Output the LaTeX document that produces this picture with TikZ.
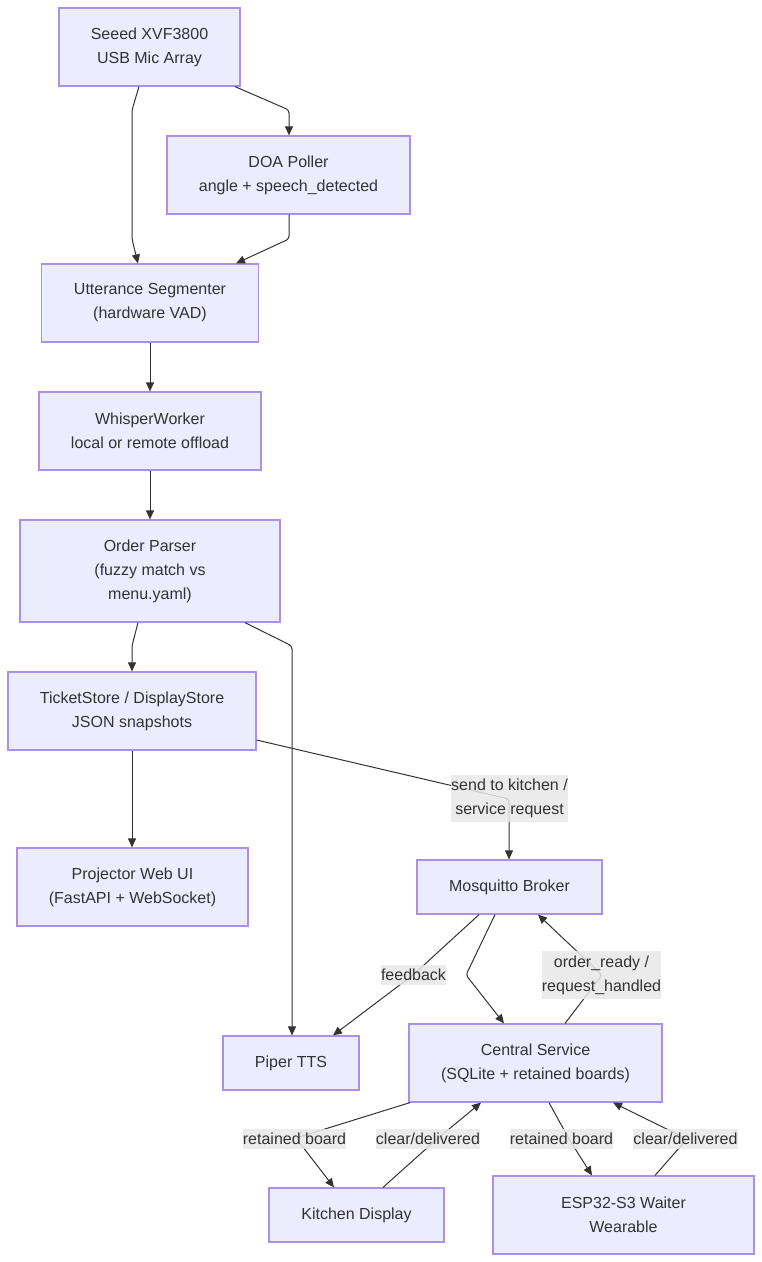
\documentclass[tikz,border=0pt]{standalone}
\usepackage{fontspec}
\setmainfont{Liberation Sans}
\usetikzlibrary{arrows.meta}
\definecolor{nodefill}{HTML}{ECECFF}
\definecolor{nodeline}{HTML}{AA91E6}
\definecolor{txt}{HTML}{333333}
\definecolor{lblbg}{HTML}{E8E8E8}
\begin{document}
\begin{tikzpicture}[x=1pt,y=-1pt,
  box/.style={draw=nodeline, line width=1.2pt, fill=nodefill, text=txt, align=center, inner sep=0pt, font=\fontsize{16}{24}\selectfont},
  edge/.style={draw=txt, line width=1pt, -{Triangle[length=9pt,width=8pt]}, rounded corners=3pt},
  lbl/.style={fill=lblbg, fill opacity=0.85, text opacity=1, text=txt, inner xsep=0pt, inner ysep=4.5pt, align=center, font=\fontsize{16}{24}\selectfont}]
\useasboundingbox (0,0) rectangle (762,1262);
\fill[white] (0,0) rectangle (762,1262);

\node[box, minimum width=181pt, minimum height=78pt] (seeed) at (149.5,47) {Seeed XVF3800\\USB Mic Array};
\node[box, minimum width=243pt, minimum height=78pt] (doa) at (288.5,175) {DOA Poller\\angle + speech\_detected};
\node[box, minimum width=217pt, minimum height=78pt] (utt) at (150,303) {Utterance Segmenter\\(hardware VAD)};
\node[box, minimum width=222pt, minimum height=78pt] (whisper) at (150,431) {WhisperWorker\\local or remote offload};
\node[box, minimum width=260pt, minimum height=102pt] (order) at (150,571) {Order Parser\\(fuzzy match vs\\menu.yaml)};
\node[box, minimum width=248pt, minimum height=78pt] (ticket) at (132,711) {TicketStore / DisplayStore\\JSON snapshots};
\node[box, minimum width=231pt, minimum height=78pt] (proj) at (132.5,887) {Projector Web UI\\(FastAPI + WebSocket)};
\node[box, minimum width=185pt, minimum height=54pt] (mosq) at (509.5,887) {Mosquitto Broker};
\node[box, minimum width=136pt, minimum height=54pt] (piper) at (291,1063) {Piper TTS};
\node[box, minimum width=253pt, minimum height=78pt] (central) at (535.5,1063) {Central Service\\(SQLite + retained boards)};
\node[box, minimum width=175pt, minimum height=54pt] (kitchen) at (356.5,1215) {Kitchen Display};
\node[box, minimum width=261pt, minimum height=78pt] (esp) at (623.5,1215) {ESP32-S3 Waiter\\Wearable};

\draw[edge] (139,0 |- seeed.south) -- (132,110) -- (132,239) -- (138,0 |- utt.north);
\draw[edge] (235,0 |- seeed.south) -- (289,110) -- (289,0 |- doa.north);
\draw[edge] (289,0 |- doa.south) -- (289,239) -- (236,0 |- utt.north);
\draw[edge] (utt.south) -- (whisper.north);
\draw[edge] (whisper.south) -- (order.north);
\draw[edge] (138,0 |- order.south) -- (132,646) -- (132,0 |- ticket.north);
\draw[edge] (245,0 |- order.south) -- (292,646) -- (292,0 |- piper.north);
\draw[edge] (ticket.south) -- (132,0 |- proj.north);
\draw[edge] (ticket.east |- 0,740) -- (509,799) -- (509,0 |- mosq.north);
\draw[edge] (479,0 |- mosq.south) -- (413,975) -- (333,0 |- piper.north);
\draw[edge] (495,0 |- mosq.south) -- (466,975) -- (504,0 |- central.north);
\draw[edge] (565,0 |- central.north) -- (602,975) -- (538,0 |- mosq.south);
\draw[edge] (410,0 |- central.south) -- (296,1138) -- (334,0 |- kitchen.north);
\draw[edge] (383,0 |- kitchen.north) -- (437,1139) -- (481,0 |- central.south);
\draw[edge] (549,0 |- central.south) -- (569,1139) -- (592,0 |- esp.north);
\draw[edge] (655,0 |- esp.north) -- (687,1139) -- (613,0 |- central.south);

\node[lbl] (l1) at (509.5,798.5) {send to kitchen /\\service request};
\node[lbl] (l2) at (413.5,975) {feedback};
\node[lbl] (l3) at (601.5,975) {order\_ready /\\request\_handled};
\node[lbl] (l4) at (294.5,1139) {retained board};
\node[lbl] (l5) at (428,1139) {clear/delivered};
\node[lbl] (l6) at (561.5,1139) {retained board};
\node[lbl] (l7) at (685.5,1139) {clear/delivered};
\end{tikzpicture}
\end{document}
